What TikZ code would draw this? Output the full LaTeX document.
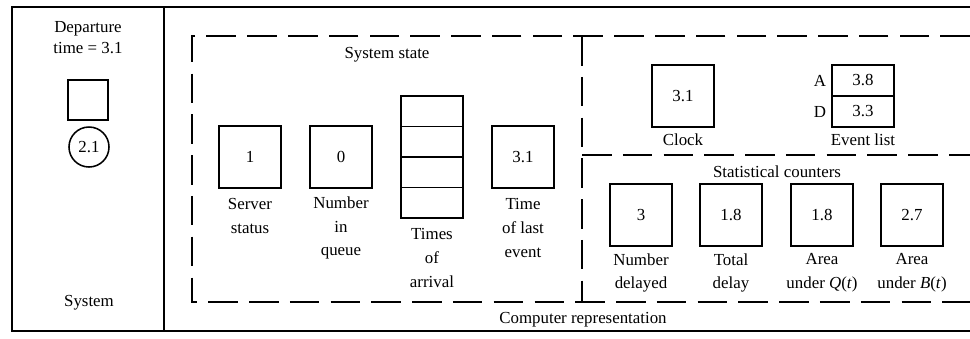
\documentclass[tikz,border=0pt]{standalone}
\usepackage{fontspec}
\setmainfont{Liberation Serif}
\usetikzlibrary{positioning}

\begin{document}
\begin{tikzpicture}[x=0.025cm, y=-0.025cm,
		every node/.style={font=\fontsize{12}{17}\selectfont, align=center, inner sep=1pt},
		cell/.style={draw, line width=1.1pt, minimum width=1.55cm, minimum height=1.55cm},
		slot/.style={draw, line width=1.1pt, minimum width=1.55cm, minimum height=0.7625cm},
		frame/.style={line width=1.8pt},
		part/.style={line width=1pt, dash pattern=on 21pt off 8pt}]
			
			\useasboundingbox (0,0) rectangle (970,338);
			
			% Outer frame (open at the right)
			\draw[frame] (970,7) -- (12,7) -- (12,331) -- (970,331);
			\draw[frame] (164,7) -- (164,331);
			
			% Dashed regions
			\draw[part] (970,36) -- (192,36) -- (192,302) -- (970,302);
			\draw[part] (582,36) -- (582,302);
			\draw[part] (582,155) -- (970,155);
			
			% System
			\node[font=\fontsize{12}{15}\selectfont] (dep) at (88,38) {Departure\\time = 3.1};
			\node[draw, line width=1.1pt, minimum size=1cm] (server) at (88,100) {};
			\node[circle, draw, line width=1.1pt, minimum size=1cm] (cust) at (89,147) {2.1};
			\node (sys) at (89,303) {System};
			
			% System state
			\node (state) at (387,55) {System state};
			\node[cell] (status) at (250,157) {1};
			\node (statusl) at (250,216) {Server\\status};
			\node[cell] (queue) at (341,157) {0};
			\node (queuel) at (341,228) {Number\\in\\queue};
			\node[slot] (arr1) at (432,111.25) {};
			\node[slot] (arr2) at (432,141.75) {};
			\node[slot] (arr3) at (432,172.25) {};
			\node[slot] (arr4) at (432,202.75) {};
			\node (arrl) at (432,258) {Times\\of\\arrival};
			\node[cell] (last) at (523,157) {3.1};
			\node (lastl) at (523,228) {Time\\of last\\event};
			
			% Clock and event list
			\node[cell] (clock) at (683,96) {3.1};
			\node (clockl) at (683,140) {Clock};
			\node[slot] (evA) at (863,80.5) {3.8};
			\node[slot] (evD) at (863,111.5) {3.3};
			\node (A) at (820,81) {A};
			\node (D) at (820,112) {D};
			\node (evl) at (863,140) {Event list};
			
			% Statistical counters
			\node (stats) at (777,172) {Statistical counters};
			\node[cell] (ndel) at (641,215) {3};
			\node (ndell) at (641,273) {Number\\delayed};
			\node[cell] (tdel) at (731,215) {1.8};
			\node (tdell) at (731,273) {Total\\delay};
			\node[cell] (aq) at (822,215) {1.8};
			\node (aql) at (822,273) {Area\\under \textit{Q}(\textit{t})};
			\node[cell] (ab) at (912,215) {2.7};
			\node (abl) at (912,273) {Area\\under \textit{B}(\textit{t})};
			
			\node (comp) at (583,320) {Computer representation};
			
		\end{tikzpicture}
\end{document}
